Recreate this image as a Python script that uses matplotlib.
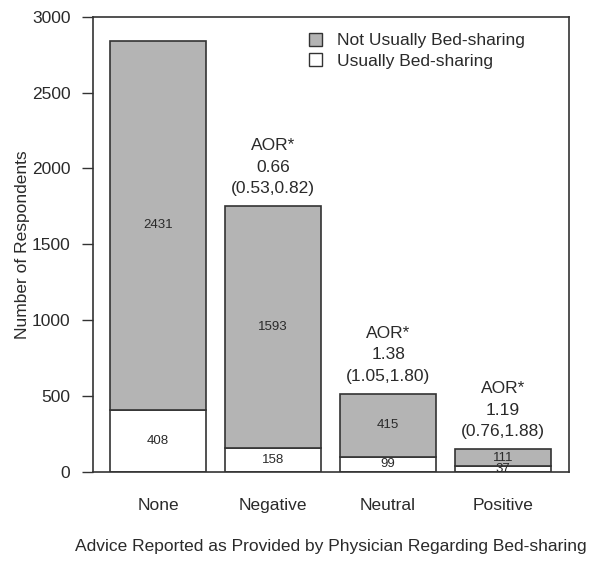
import matplotlib
matplotlib.use("Agg")
import matplotlib.pyplot as plt
from matplotlib.patches import Patch
import numpy as np

categories = ["None", "Negative", "Neutral", "Positive"]
usually = [408, 158, 99, 37]
not_usually = [2431, 1593, 415, 111]
aor_values = [None, "0.66", "1.38", "1.19"]
aor_ci = [None, "(0.53,0.82)", "(1.05,1.80)", "(0.76,1.88)"]
yticks = [0, 500, 1000, 1500, 2000, 2500, 3000]

plt.rcParams['font.family'] = ['Liberation Sans', 'DejaVu Sans']
txt = "#2a2a2a"
gray = "#b4b4b4"
edge = "#333333"

fig = plt.figure(figsize=(6, 5.71), dpi=100)
ax = fig.add_axes([0.1545, 0.1739, 0.948 - 0.1545, 0.9708 - 0.1739])

x = np.arange(len(categories))
w = 0.835
ax.bar(x, usually, width=w, color="white", edgecolor=edge, linewidth=1.2)
ax.bar(x, not_usually, width=w, bottom=usually, color=gray, edgecolor=edge, linewidth=1.2)

for i in range(len(categories)):
    ax.text(x[i], usually[i] / 2, str(usually[i]), ha="center", va="center",
            fontsize=9.5, color=txt)
    ax.text(x[i], usually[i] + not_usually[i] / 2, str(not_usually[i]), ha="center",
            va="center", fontsize=9.5, color=txt)
    if aor_values[i] is not None:
        top = usually[i] + not_usually[i]
        for line, off in zip(["AOR*", aor_values[i], aor_ci[i]], [60.5, 39, 17.3]):
            ax.annotate(line, (x[i], top), xytext=(0, off), textcoords="offset pixels",
                        ha="center", va="center", fontsize=12.5, color=txt)

ax.set_xlim(-0.568, 3.571)
ax.set_ylim(0, 3000)
ax.set_yticks(yticks)
ax.set_yticklabels([str(v) for v in yticks], fontsize=12.5, color=txt)
ax.set_xticks(x)
ax.set_xticklabels(categories, fontsize=12.5, color=txt)
ax.tick_params(axis="x", length=0, pad=19)
ax.tick_params(axis="y", length=8, width=1, color=edge, pad=8)
for s in ax.spines.values():
    s.set_color(edge)
    s.set_linewidth(1.2)

ax.set_ylabel("Number of Respondents", fontsize=12.5, color=txt, labelpad=1)
ax.set_xlabel("Advice Reported as Provided by Physician Regarding Bed-sharing",
              fontsize=12.5, color=txt, labelpad=19)

handles = [Patch(facecolor=gray, edgecolor=edge, label="Not Usually Bed-sharing"),
           Patch(facecolor="white", edgecolor=edge, label="Usually Bed-sharing")]
leg = ax.legend(handles=handles, loc="upper left", bbox_to_anchor=(0.425, 0.995),
                frameon=False, fontsize=12.5, handlelength=0.75, handleheight=0.75,
                handletextpad=0.85, labelspacing=0.3, borderaxespad=0.4)
for t in leg.get_texts():
    t.set_color(txt)

fig.savefig("out.png", dpi=100)
